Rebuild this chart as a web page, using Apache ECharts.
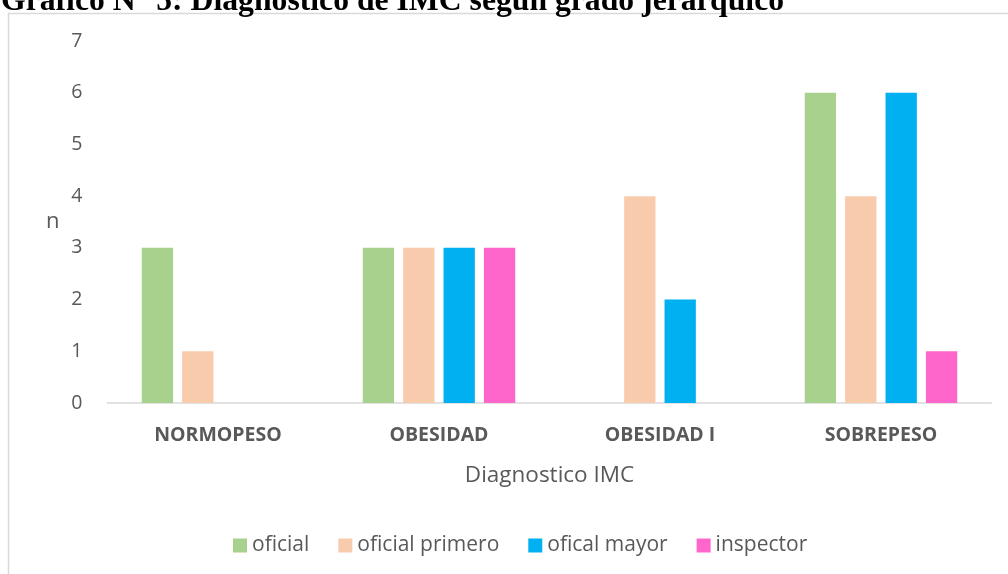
<!DOCTYPE html>
<html><head><meta charset="utf-8">
<script src="https://cdn.jsdelivr.net/npm/echarts@6/dist/echarts.min.js"></script>
<style>html,body{margin:0;padding:0;background:#fff}#c{width:1008px;height:574px}</style>
</head><body><div id="c"></div>
<script>
const categories = ['NORMOPESO', 'OBESIDAD', 'OBESIDAD I', 'SOBREPESO'];
const seriesNames = ['oficial', 'oficial primero', 'ofical mayor', 'inspector'];
const oficial = [3, 3, 0, 6];
const oficialPrimero = [1, 3, 4, 4];
const oficalMayor = [0, 3, 2, 6];
const inspector = [0, 3, 0, 1];
const colors = ['#A9D18E', '#F8CBAD', '#00B0F0', '#FF66CC'];
const values = [oficial, oficialPrimero, oficalMayor, inspector];

const chart = echarts.init(document.getElementById('c'));
const font = 'Open Sans';
chart.setOption({
  animation: false,
  backgroundColor: '#fff',
  graphic: [
    {type: 'rect', shape: {x: 8.5, y: 13.5, width: 1100, height: 700}, style: {fill: 'none', stroke: '#D9D9D9', lineWidth: 1.5}, z: 0},
    {type: 'text', x: 1, y: 2, style: {text: 'Gráfico N° 5: Diagnostico de IMC según grado jerárquico', font: 'bold 31.7px "Liberation Serif"', fill: '#000', verticalAlign: 'middle', align: 'left'}, z: 10}
  ],
  legend: {
    left: 228, top: 530, itemWidth: 14, itemHeight: 14, itemGap: 29,
    icon: 'rect',
    textStyle: {fontFamily: font, fontSize: 21, color: '#595959'},
    data: seriesNames
  },
  grid: {left: 107.5, right: 16.5, top: 41, bottom: 171, containLabel: false},
  xAxis: {
    type: 'category', data: categories,
    name: 'Diagnostico IMC', nameLocation: 'middle', nameGap: 61,
    nameTextStyle: {fontFamily: font, fontSize: 22.5, color: '#595959'},
    axisLine: {lineStyle: {color: '#D9D9D9', width: 1.5}},
    axisTick: {show: false},
    axisLabel: {fontFamily: font, fontSize: 19.5, fontWeight: 'bold', color: '#595959', margin: 22}
  },
  yAxis: {
    type: 'value', min: 0, max: 7, interval: 1,
    name: 'n', nameLocation: 'middle', nameRotate: 0, nameGap: 48,
    nameTextStyle: {fontFamily: font, fontSize: 22, color: '#595959', padding: [12, 0, 0, 0]},
    splitLine: {show: false},
    axisLine: {show: false}, axisTick: {show: false},
    axisLabel: {fontFamily: font, fontSize: 19.5, color: '#595959', margin: 25}
  },
  series: values.map((v, i) => ({
    name: seriesNames[i], type: 'bar', data: v,
    barGap: '29%', barCategoryGap: '31%',
    itemStyle: {color: colors[i]}
  }))
});
</script></body></html>
